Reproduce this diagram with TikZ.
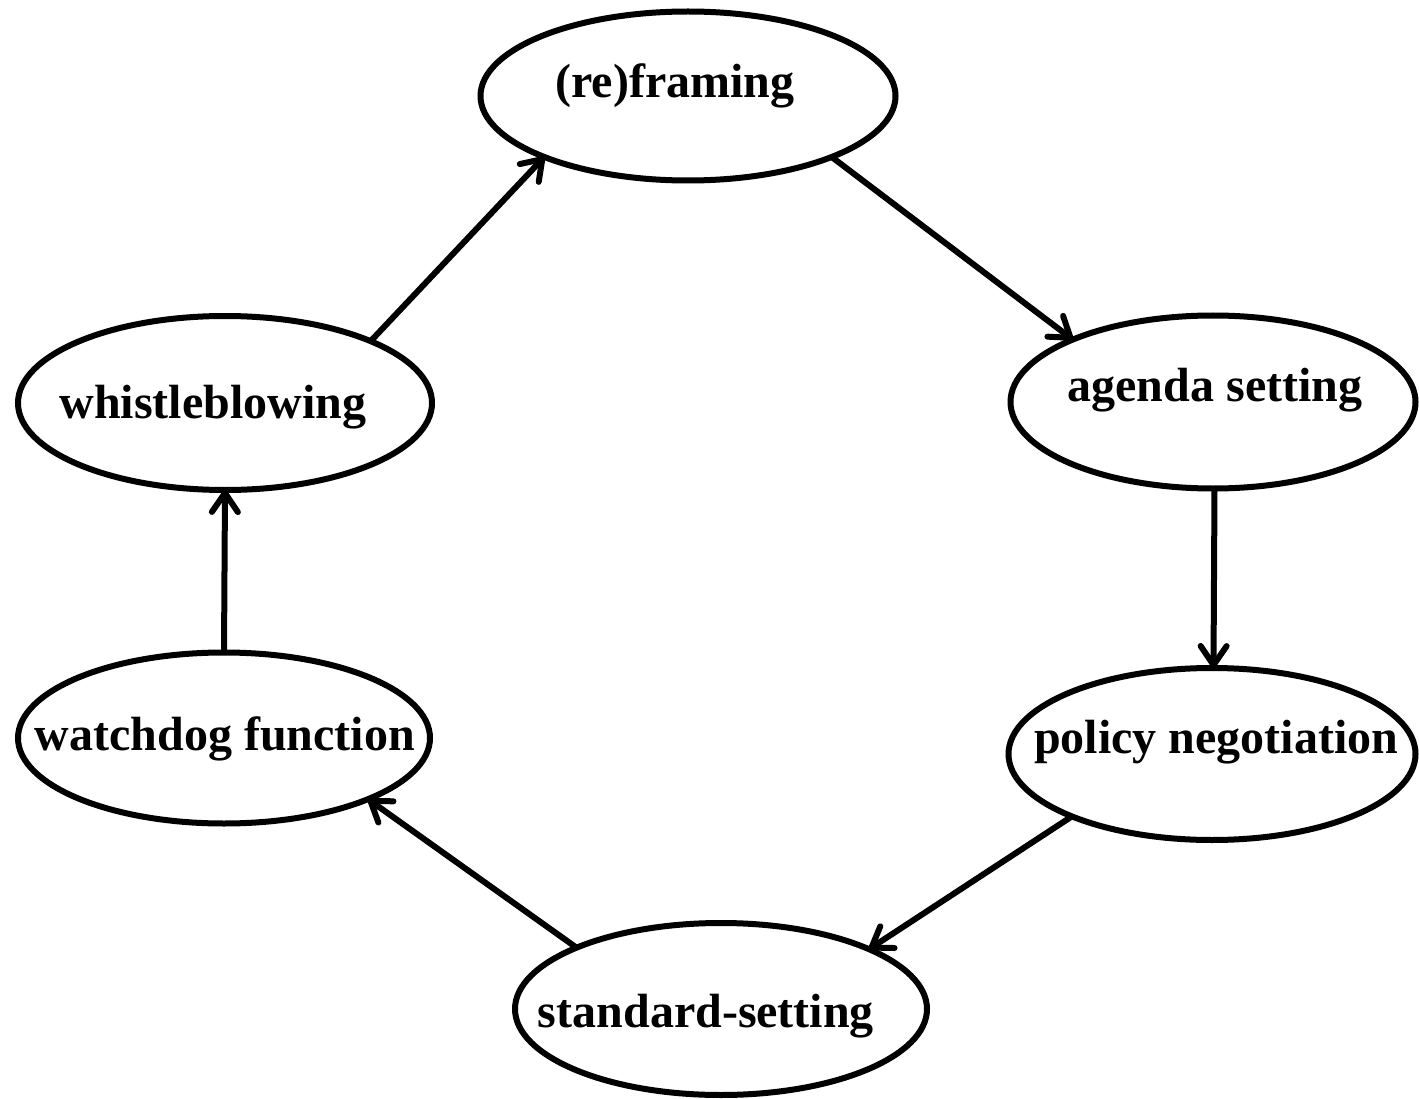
\documentclass[tikz,border=0pt]{standalone}
\usepackage{fontspec}
\setmainfont{Liberation Serif}
\usetikzlibrary{shapes.geometric,arrows.meta}
\begin{document}
\begin{tikzpicture}[x=1pt,y=-1pt,
  oval/.style={draw=black,line width=6pt,ellipse,inner sep=0pt,outer sep=0pt},
  lbl/.style={anchor=base,inner sep=0pt,font=\fontsize{48}{58}\selectfont\bfseries},
  flow/.style={line width=6pt,-{Straight Barb[length=19pt,width=26pt,round]}}]
\useasboundingbox (0,0) rectangle (1419,1099);
\node[oval,minimum width=415pt,minimum height=169pt] (rf) at (688,96) {};
\node[oval,minimum width=405pt,minimum height=173pt] (ag) at (1213,402) {};
\node[oval,minimum width=407pt,minimum height=172pt] (pn) at (1212,754) {};
\node[oval,minimum width=412pt,minimum height=172pt] (ss) at (721,1009) {};
\node[oval,minimum width=414pt,minimum height=174pt] (wb) at (225,403) {};
\node[oval,minimum width=412pt,minimum height=171pt] (wd) at (224,738) {};
\node[lbl] (trf) at (675,98) {(re)framing};
\node[lbl] (tag) at (1215,401) {agenda setting};
\node[lbl] (tpn) at (1216,753) {policy negotiation};
\node[lbl] (tss) at (706,1027) {standard-setting};
\node[lbl] (twb) at (213,418) {whistleblowing};
\node[lbl] (twd) at (225,750) {watchdog function};
\draw[flow] (wb.23.9) -- (rf.203.7);
\draw[flow] (rf.-23.5) -- (ag.156.2);
\draw[flow] (ag.-89.5) -- (pn.89.5);
\draw[flow] (pn.204.3) -- (ss.22.9);
\draw[flow] (ss.157.4) -- (wd.-23.2);
\draw[flow] (wd.north) -- (wb.south);
\end{tikzpicture}
\end{document}
